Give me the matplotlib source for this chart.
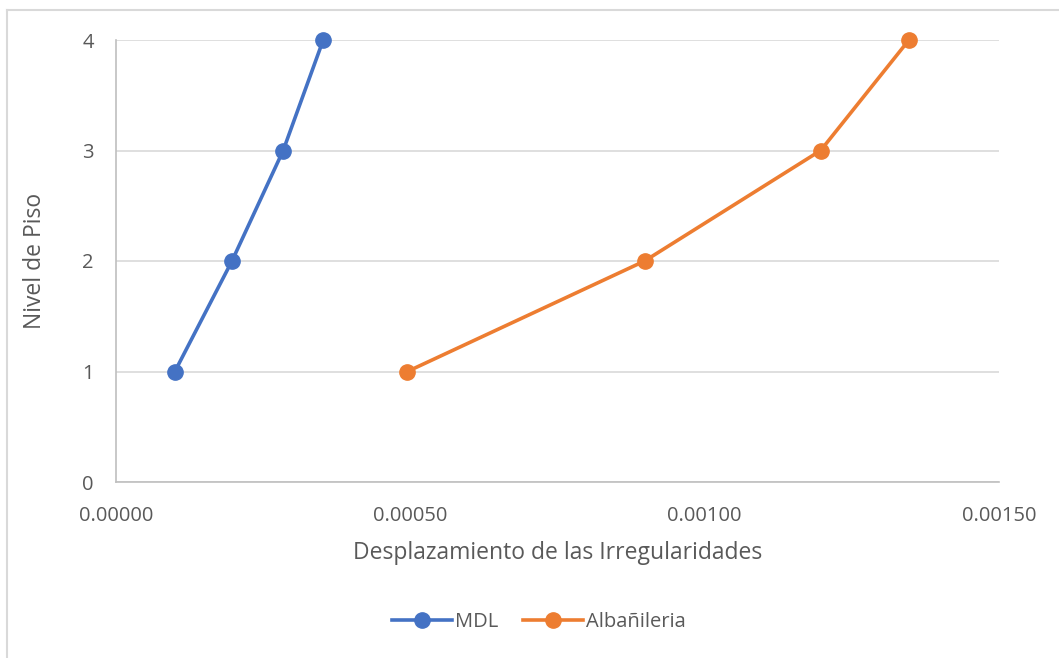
import matplotlib
matplotlib.use("Agg")
import matplotlib.pyplot as plt
from matplotlib.lines import Line2D
from matplotlib.ticker import FormatStrFormatter

# Floor levels and lateral displacement per system
niveles = [1, 2, 3, 4]
mdl = [0.00010, 0.000197, 0.000284, 0.000352]
albanileria = [0.000495, 0.000898, 0.001197, 0.001347]

x_ticks = [0.0, 0.0005, 0.0010, 0.0015]
y_ticks = [0, 1, 2, 3, 4]

plt.rcParams['font.family'] = ['Open Sans', 'DejaVu Sans']

W, H = 1059, 658
fig = plt.figure(figsize=(W / 100, H / 100), dpi=100)
ax = fig.add_axes([116 / W, 1 - 482 / H, (999 - 116) / W, (482 - 40) / H])

text_color = '#595959'
grid_color = '#d9d9d9'

ax.plot(mdl, niveles, color='#4472C4', lw=2.6, marker='o', ms=11, label='MDL',
        zorder=3, clip_on=False)
ax.plot(albanileria, niveles, color='#ED7D31', lw=2.6, marker='o', ms=11,
        label='Albañileria', zorder=3, clip_on=False)

ax.set_xlim(0, 0.0015)
ax.set_ylim(0, 4)
ax.set_xticks(x_ticks)
ax.set_yticks(y_ticks)
ax.xaxis.set_major_formatter(FormatStrFormatter('%.5f'))
ax.yaxis.grid(True, color=grid_color, lw=1.2)
ax.set_axisbelow(True)

for s in ['top', 'right']:
    ax.spines[s].set_visible(False)
for s in ['left', 'bottom']:
    ax.spines[s].set_color('#bfbfbf')
    ax.spines[s].set_linewidth(1.2)

ax.tick_params(axis='both', length=0, labelsize=14.5, colors=text_color)
ax.tick_params(axis='x', pad=17)
ax.tick_params(axis='y', pad=16)

ax.set_xlabel('Desplazamiento de las Irregularidades', fontsize=16.5,
              color=text_color, labelpad=11)
ax.set_ylabel('Nivel de Piso', fontsize=16.5, color=text_color, labelpad=25)

leg = fig.legend(loc='center', bbox_to_anchor=(539 / W, 1 - 622 / H), ncol=2,
                 frameon=False, fontsize=14.5, handlelength=3.0,
                 columnspacing=1.2, handletextpad=0.15)
for t in leg.get_texts():
    t.set_color(text_color)

# Chart area border
border = '#d9d9d9'
fig.add_artist(Line2D([7 / W, 7 / W], [0, 1 - 10 / H], transform=fig.transFigure,
                      color=border, lw=1.5))
fig.add_artist(Line2D([7 / W, 1], [1 - 10 / H, 1 - 10 / H], transform=fig.transFigure,
                      color=border, lw=1.5))

fig.savefig('out.png', dpi=100)
